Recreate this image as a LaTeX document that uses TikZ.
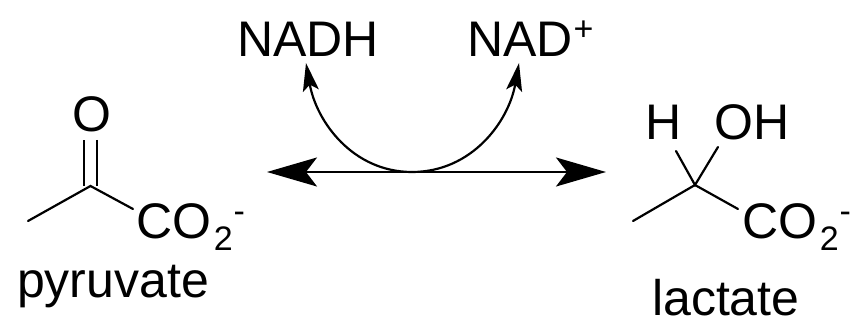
\documentclass[tikz,border=0pt]{standalone}
\usepackage{fontspec}
\setmainfont{Liberation Sans}
\usetikzlibrary{arrows.meta}
\newcommand{\chemfont}{\fontsize{50}{54}\selectfont}
\newcommand{\subfont}{\fontsize{34}{36}\selectfont}
\newcommand{\carboxyl}{CO\kern2pt\raisebox{-12pt}{\subfont 2}\kern1pt\raisebox{16pt}{\subfont -}}
\tikzset{
	label text/.style={font=\chemfont,inner sep=0pt,anchor=base west},
	bond/.style={line width=2.2pt,line cap=round},
	big head/.style={{Stealth[length=50pt,width=29pt,inset=11pt]}-{Stealth[length=50pt,width=29pt,inset=11pt]}},
	small head/.style={-{Stealth[length=28pt,width=16pt,inset=6pt]}}
}
\begin{document}
\begin{tikzpicture}[x=1pt,y=1pt,line width=2.2pt]
   \useasboundingbox (0,0) rectangle (855,321);
   % cofactors
   \node[label text] (nadh) at (236,264) {NADH};
   \node[label text] (nadplus) at (466,264) {NAD\kern1pt\raisebox{16pt}{\subfont +}};
   % pyruvate
   \node[label text,anchor=base] (pyr_o) at (92,189) {O};
   \node[label text] (pyr_co) at (135.7,82) {\carboxyl};
   \node[label text] (pyr_name) at (16,23) {pyruvate};
   \coordinate (pyr_c) at (90.5,135);
   \coordinate (pyr_me) at (28,100);
   \coordinate (pyr_end) at (133,112);
   \coordinate (pyr_top) at (90.5,181);
   \draw[bond,line cap=butt,double=white,double distance=10.5pt] (pyr_top) -- (pyr_c);
   \draw[bond] (pyr_me) -- (pyr_c) -- (pyr_end);
   % lactate
   \node[label text] (lac_h) at (644,181) {H};
   \node[label text] (lac_oh) at (713,181) {OH};
   \node[label text] (lac_co) at (741.7,82) {\carboxyl};
   \node[label text] (lac_name) at (651,5.5) {lactate};
   \coordinate (lac_c) at (695,136);
   \coordinate (lac_me) at (633,100);
   \coordinate (lac_end) at (738,112);
   \coordinate (lac_hend) at (676,170);
   \coordinate (lac_ohend) at (718,174);
   \draw[bond] (lac_me) -- (lac_c) -- (lac_end);
   \draw[bond] (lac_hend) -- (lac_c) -- (lac_ohend);
   % reaction arrows
   \coordinate (left_tip) at (267,149);
   \coordinate (right_tip) at (606,149);
   \coordinate (hub) at (412,149);
   \coordinate (nadh_tip) at (306,258);
   \coordinate (nadplus_tip) at (519,258);
   \draw[big head] (left_tip) -- (right_tip);
   \draw[small head] (hub) to[out=180,in=-80,looseness=1] (nadh_tip);
   \draw[small head] (hub) to[out=0,in=-100,looseness=1] (nadplus_tip);
\end{tikzpicture}
\end{document}
